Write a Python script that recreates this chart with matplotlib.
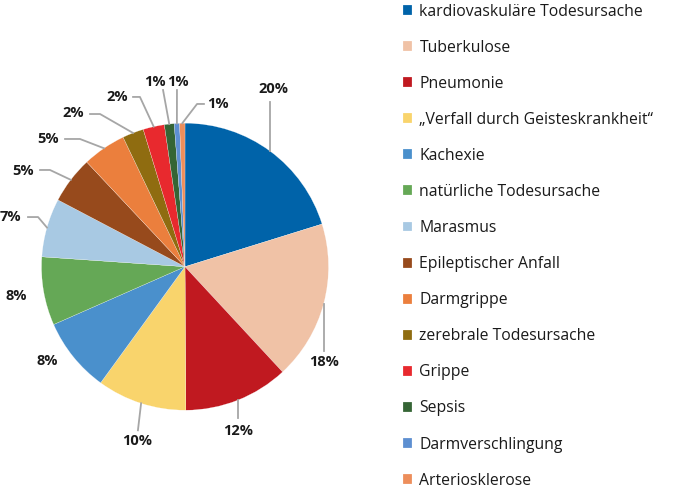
import matplotlib
matplotlib.use("Agg")
import matplotlib.pyplot as plt
import numpy as np

plt.rcParams['font.family'] = ['Open Sans', 'DejaVu Sans']

causes = [
    "kardiovaskuläre Todesursache",
    "Tuberkulose",
    "Pneumonie",
    "„Verfall durch Geisteskrankheit“",
    "Kachexie",
    "natürliche Todesursache",
    "Marasmus",
    "Epileptischer Anfall",
    "Darmgrippe",
    "zerebrale Todesursache",
    "Grippe",
    "Sepsis",
    "Darmverschlingung",
    "Arteriosklerose",
]
shares = [20.2, 17.9, 11.8, 10.1, 8.4, 7.7, 6.6, 5.3, 4.9, 2.4, 2.4, 1.1, 0.6, 0.6]
colors = ["#0063a9", "#f0c2a6", "#c01920", "#f9d46c", "#4a90cc", "#65a856",
          "#a8c9e3", "#974a1c", "#eb7f3d", "#8f6c10", "#e8292e", "#356535",
          "#5d8fd1", "#ed8e5b"]

# label positions (pie radius = 1)
label_xy = [(0.613, 1.238), (0.969, -0.664), (0.369, -1.145), (-0.334, -1.214),
            (-0.962, -0.657), (-1.178, -0.204), (-1.213, 0.346), (-1.129, 0.667),
            (-0.955, 0.890), (-0.780, 1.071), (-0.474, 1.183), (-0.209, 1.287),
            (-0.049, 1.287), (0.232, 1.134)]
# leader lines: "v" vertical to y, "p" straight to point, "h" elbow then horizontal stub
leaders = [("v", 1.15), ("v", -0.59), ("v", -1.054), ("p", -0.328, -1.14),
           None, None,
           ("h", -1.094, -1.024, 0.346), ("h", -1.010, -0.941, 0.674),
           ("h", -0.836, -0.732, 0.890), ("h", -0.662, -0.592, 1.064),
           ("h", -0.362, -0.314, 1.183), ("p", -0.153, 1.231),
           ("p", -0.056, 1.231), ("h", 0.132, 0.084, 1.134)]

fig = plt.figure(figsize=(6.73, 4.91), dpi=100)
ax = fig.add_axes([0, 0, 1, 1])

wedges, _ = ax.pie(shares, colors=colors, startangle=90, counterclock=False,
                   radius=1, center=(0, 0),
                   wedgeprops=dict(edgecolor="white", linewidth=0.15))

R = 143.5
ax.set_xlim(-185 / R, (673 - 185) / R)
ax.set_ylim(-(491 - 266.7) / R, 266.7 / R)
ax.axis("off")

grey = "#a6a6a6"
for w, v, (lx, ly), ld in zip(wedges, shares, label_xy, leaders):
    mid = np.deg2rad((w.theta1 + w.theta2) / 2)
    ax_, ay_ = np.cos(mid), np.sin(mid)
    if ld is not None:
        if ld[0] == "v":
            ax.plot([ax_, ax_], [ay_, ld[1]], color=grey, lw=1.3)
        elif ld[0] == "p":
            ax.plot([ax_, ld[1]], [ay_, ld[2]], color=grey, lw=1.3)
        else:
            ax.plot([ax_, ld[2], ld[1]], [ay_, ld[3], ld[3]], color=grey, lw=1.3)
    ax.text(lx, ly, f"{round(v)}%", ha="center", va="center",
            fontsize=10.5, fontweight="bold", color="#1a1a1a")

leg = fig.legend(wedges, causes, loc="upper left",
                 bbox_to_anchor=(403 / 673, 1 - 3.5 / 491),
                 frameon=False, fontsize=11.3, handlelength=0.6,
                 handleheight=0.6, handletextpad=0.45, labelspacing=1.28,
                 borderpad=0, borderaxespad=0)
for t in leg.get_texts():
    t.set_color("#1a1a1a")

fig.savefig("out.png", dpi=100)
